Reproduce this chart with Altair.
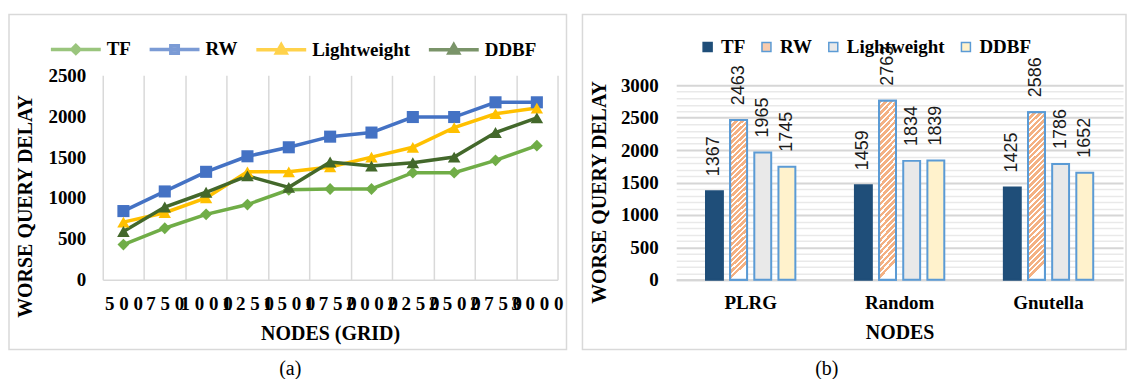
import altair as alt
import pandas as pd

# ---------------- data (a) ----------------
nodes = [500, 750, 1000, 1250, 1500, 1750, 2000, 2250, 2500, 2750, 3000]
tf_a = [430, 630, 800, 920, 1100, 1110, 1110, 1310, 1310, 1460, 1640]
rw_a = [840, 1080, 1320, 1510, 1620, 1750, 1800, 1990, 1990, 2170, 2170]
lw_a = [705, 820, 1000, 1320, 1320, 1380, 1500, 1620, 1860, 2030, 2100]
ddbf_a = [590, 890, 1070, 1270, 1130, 1440, 1390, 1430, 1500, 1800, 1980]
series_a = ["TF", "RW", "Lightweight", "DDBF"]

# ---------------- data (b) ----------------
groups = ["PLRG", "Random", "Gnutella"]
series_b = ["TF", "RW", "Lightweight", "DDBF"]
tf_b = [1367, 1459, 1425]
rw_b = [2463, 2763, 2586]
lw_b = [1965, 1834, 1786]
ddbf_b = [1745, 1839, 1652]

# ---------------- styles ----------------
colors_a = ["#70AD47", "#4472C4", "#FFC000", "#43682B"]
shapes_a = ["diamond", "square", "triangle-up", "triangle-up"]
sizes_a = [140, 160, 190, 190]
legend_paths = [
    "M-1,0L1,0M-0.16,0L0,-0.16L0.16,0L0,0.16Z",
    "M-1,0L1,0M-0.15,-0.15L0.15,-0.15L0.15,0.15L-0.15,0.15Z",
    "M-1,0L1,0M0,-0.2L0.19,0.13L-0.19,0.13Z",
    "M-1,0L1,0M0,-0.2L0.19,0.13L-0.19,0.13Z",
]
fills_b = ["#1F4E79", "#F8CBAD", "#E9E9E9", "#FFF2CC"]
strokes_b = ["#1F4E79", "#5B9BD5", "#5B9BD5", "#5B9BD5"]

SERIF = "Liberation Serif"
SANS = "Liberation Sans"
BORDER = "#D9D9D9"

rows_a = []
for s, vals in zip(series_a, [tf_a, rw_a, lw_a, ddbf_a]):
    for n, v in zip(nodes, vals):
        rows_a.append({"nodes": n, "series": s, "delay": v})
df_a = pd.DataFrame(rows_a)

rows_b = []
for s, vals in zip(series_b, [tf_b, rw_b, lw_b, ddbf_b]):
    for g, v in zip(groups, vals):
        rows_b.append({"group": g, "series": s, "delay": v})
df_b = pd.DataFrame(rows_b)

one = pd.DataFrame({"k": [0]})

# ---------------- chart (a) ----------------
WA, HA = 456, 205

x_a = alt.X(
    "nodes:O", sort=nodes, bandPosition=0.5, title="NODES (GRID)",
    scale=alt.Scale(type="band", paddingInner=0, paddingOuter=0),
    axis=alt.Axis(
        labelExpr="join(split(datum.label, ''), ' ')", labelAngle=0,
        labelOverlap=False, labelBound=False, labelFlush=False,
        tickBand="extent", grid=True, gridColor=BORDER, gridWidth=1.5,
        ticks=False, tickSize=0, domainColor=BORDER, domainWidth=1.5,
        labelFont=SERIF, labelFontSize=19, labelFontWeight="bold", labelColor="black",
        labelBaseline="middle", labelPadding=24,
        titleFont=SERIF, titleFontSize=20, titleFontWeight="bold", titleColor="black",
        titleBaseline="middle", titleY=54,
    ),
)
y_a = alt.Y(
    "delay:Q", title="WORSE QUERY DELAY",
    scale=alt.Scale(domain=[0, 2500], nice=False),
    axis=alt.Axis(
        values=[0, 500, 1000, 1500, 2000, 2500], format="d", grid=False,
        domain=False, ticks=False, tickSize=0,
        labelFont=SERIF, labelFontSize=19, labelFontWeight="bold", labelColor="black",
        labelPadding=17,
        titleFont=SERIF, titleFontSize=20, titleFontWeight="bold", titleColor="black",
        titleBaseline="middle", titleX=-77, titleY=131, titleAngle=270,
    ),
)

lines_a = alt.Chart(df_a).mark_line(strokeWidth=3.5).encode(
    x=x_a, y=y_a,
    color=alt.Color("series:N", scale=alt.Scale(domain=series_a, range=colors_a), legend=None),
)
points_a = alt.Chart(df_a).mark_point(filled=True, opacity=1).encode(
    x=x_a, y=y_a,
    color=alt.Color("series:N", scale=alt.Scale(domain=series_a, range=colors_a), legend=None),
    shape=alt.Shape("series:N", scale=alt.Scale(domain=series_a, range=shapes_a), legend=None),
    size=alt.Size("series:N", scale=alt.Scale(domain=series_a, range=sizes_a), legend=None),
)

leg_a = alt.Legend(
    orient="none", legendX=-54, legendY=-53, direction="horizontal", title=None,
    symbolSize=2500, symbolStrokeWidth=3.5, labelFont=SERIF, labelFontSize=19,
    labelFontWeight="bold", labelColor="black", labelOffset=4, columnPadding=11, padding=0,
)
legend_layer_a = alt.Chart(df_a).transform_filter("false").mark_point(filled=True).encode(
    x=x_a, y=y_a,
    shape=alt.Shape("series:N", scale=alt.Scale(domain=series_a, range=legend_paths), legend=leg_a),
    fill=alt.Fill("series:N", scale=alt.Scale(domain=series_a, range=colors_a), legend=leg_a),
    stroke=alt.Stroke("series:N", scale=alt.Scale(domain=series_a, range=colors_a), legend=leg_a),
)

border_a = alt.Chart(one).mark_rect(fillOpacity=0, stroke=BORDER, strokeWidth=1.5).encode(
    x=alt.value(-94), x2=alt.value(465), y=alt.value(-61), y2=alt.value(275)
)
caption_a = alt.Chart(one).mark_text(text="(a)", font=SERIF, fontSize=20, color="black").encode(
    x=alt.value(188), y=alt.value(294)
)

chart_a = alt.layer(border_a, lines_a, points_a, legend_layer_a, caption_a).resolve_scale(
    shape="independent", fill="independent", stroke="independent"
).properties(width=WA, height=HA)

# ---------------- chart (b) ----------------
WB, HB = 448, 205
YMAX_B = 3000 * 205 / 195  # plot area reaches a little above the 3000 line

x_b = alt.X(
    "group:N", sort=groups, title="NODES",
    scale=alt.Scale(paddingInner=0.4, paddingOuter=0.2),
    axis=alt.Axis(
        labelAngle=0, ticks=False, tickSize=0, domainColor="#D6D6D6", domainWidth=2,
        labelFont=SERIF, labelFontSize=19, labelFontWeight="bold", labelColor="black",
        labelBaseline="middle", labelPadding=23,
        titleFont=SERIF, titleFontSize=20, titleFontWeight="bold", titleColor="black",
        titleBaseline="middle", titleY=53,
    ),
)
xo_b = alt.XOffset(
    "series:N", sort=series_b,
    scale=alt.Scale(domain=series_b, paddingInner=0.3, paddingOuter=0),
)
y_b = alt.Y(
    "delay:Q", title="WORSE QUERY DELAY",
    scale=alt.Scale(domain=[0, YMAX_B], nice=False),
    axis=alt.Axis(
        values=list(range(0, 3001, 100)), format="d",
        labelExpr="datum.value % 500 === 0 ? datum.label : ''",
        grid=True,
        gridColor={"condition": {"test": "datum.value % 500 === 0", "value": "#D6D6D6"}, "value": "#E9E9E9"},
        gridWidth={"condition": {"test": "datum.value % 500 === 0", "value": 2}, "value": 1.5},
        domain=False, ticks=False, tickSize=0,
        labelFont=SERIF, labelFontSize=19, labelFontWeight="bold", labelColor="black",
        labelPadding=18,
        titleFont=SERIF, titleFontSize=20, titleFontWeight="bold", titleColor="black",
        titleBaseline="middle", titleX=-77, titleY=117, titleAngle=270,
    ),
)

leg_b = alt.Legend(
    orient="none", legendX=22, legendY=-38, direction="horizontal", title=None,
    symbolType="square", symbolSize=81, symbolStrokeWidth=1.5, symbolStrokeColor="#5B9BD5",
    labelFont=SERIF, labelFontSize=19, labelFontWeight="bold", labelColor="black",
    labelOffset=4, columnPadding=11, padding=0, gridAlign="none",
)
bars_b = alt.Chart(df_b).mark_bar(strokeWidth=2).encode(
    x=x_b, xOffset=xo_b, y=y_b,
    fill=alt.Fill("series:N", scale=alt.Scale(domain=series_b, range=fills_b), legend=leg_b),
    stroke=alt.Stroke("series:N", scale=alt.Scale(domain=series_b, range=strokes_b), legend=None),
)

# diagonal hatch for RW bars
N_STRIPES = 30
stops = []
for i in range(N_STRIPES):
    a = i / N_STRIPES
    b = (i + 0.62) / N_STRIPES
    c = (i + 1) / N_STRIPES
    stops += [
        {"offset": a, "color": "#F4B183"},
        {"offset": b, "color": "#F4B183"},
        {"offset": b, "color": "#FFFFFF"},
        {"offset": c, "color": "#FFFFFF"},
    ]
hatch = {"gradient": "linear", "x1": 0, "y1": 0, "x2": 0.1, "y2": 1, "stops": stops}

hatch_b = alt.Chart(df_b).transform_filter("datum.series === 'RW'").mark_bar(
    fill=hatch, stroke="#5B9BD5", strokeWidth=2
).encode(x=x_b, xOffset=xo_b, y=y_b)

labels_b = alt.Chart(df_b).mark_text(
    angle=270, align="left", baseline="middle", dx=15, font=SANS, fontSize=18, color="#1a1a1a"
).encode(x=x_b, xOffset=xo_b, y=y_b, text=alt.Text("delay:Q", format="d"))

border_b = alt.Chart(one).mark_rect(fillOpacity=0, stroke=BORDER, strokeWidth=1.5).encode(
    x=alt.value(-94), x2=alt.value(451), y=alt.value(-61), y2=alt.value(275)
)
caption_b = alt.Chart(one).mark_text(text="(b)", font=SERIF, fontSize=20, color="black").encode(
    x=alt.value(151), y=alt.value(294)
)

chart_b = alt.layer(border_b, bars_b, hatch_b, labels_b, caption_b).properties(width=WB, height=HB)

chart = alt.hconcat(chart_a, chart_b, spacing=14).resolve_scale(
    color="independent", fill="independent", stroke="independent",
    shape="independent", size="independent",
).resolve_legend(
    color="independent", fill="independent", stroke="independent",
    shape="independent", size="independent",
).properties(
    padding={"left": 0, "top": 5, "right": 0, "bottom": 0}
).configure_view(stroke=None)

chart.save("out.html", embed_options={"renderer": "svg", "actions": False})
